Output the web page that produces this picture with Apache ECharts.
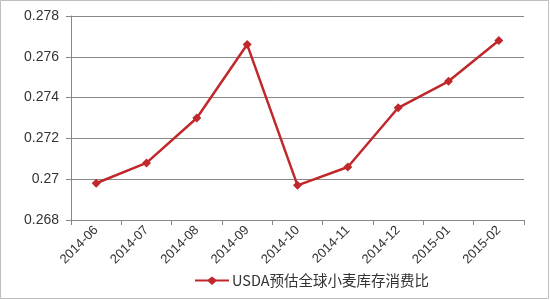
<!DOCTYPE html>
<html><head><meta charset="utf-8">
<script src="https://cdn.jsdelivr.net/npm/echarts@6/dist/echarts.min.js"></script>
<style>html,body{margin:0;padding:0;background:#fff}#c{width:550px;height:300px}</style>
</head><body><div id="c"></div>
<script>
const categories = ['2014-06','2014-07','2014-08','2014-09','2014-10','2014-11','2014-12','2015-01','2015-02'];
const values = [0.2698, 0.2708, 0.2730, 0.2766, 0.2697, 0.2706, 0.2735, 0.2748, 0.2768];
const seriesName = 'USDA预估全球小麦库存消费比';
const chart = echarts.init(document.getElementById('c'));
chart.setOption({
  animation: false,
  graphic: [{type:'rect', shape:{x:0.5,y:0.5,width:548,height:298}, style:{fill:'none', stroke:'#bfbfbf', lineWidth:1}}],
  grid: {left:71, right:26, top:16, bottom:80},
  legend: {bottom:7, left:190, itemWidth:34, itemHeight:9, itemGap:4, textStyle:{fontFamily:'Noto Sans CJK SC', fontSize:14.5, color:'#333', padding:[0,0,0,-2]},
    data:[{name:seriesName, icon:'path://M0,3L13,3L17,0L21,3L34,3L34,5L21,5L17,8.5L13,5L0,5Z'}]},
  xAxis: {type:'category', data:categories, boundaryGap:true,
    axisLine:{lineStyle:{color:'#888'}}, axisTick:{show:true, alignWithLabel:false, length:5, lineStyle:{color:'#888'}},
    axisLabel:{rotate:45, fontSize:13, color:'#333', fontFamily:'Liberation Sans', margin:8}},
  yAxis: {type:'value', min:0.268, max:0.278, interval:0.002,
    axisLine:{show:true, lineStyle:{color:'#888'}}, axisTick:{show:true, length:5, lineStyle:{color:'#888'}},
    splitLine:{lineStyle:{color:'#888'}},
    axisLabel:{fontSize:14, color:'#333', fontFamily:'Liberation Sans', margin:12, formatter: v => String(parseFloat(v.toFixed(3)))}},
  series: [{name:seriesName, type:'line', data:values, symbol:'diamond', symbolSize:9,
    lineStyle:{color:'#c0282b', width:2.5}, itemStyle:{color:'#c0282b'}}]
});
</script></body></html>
